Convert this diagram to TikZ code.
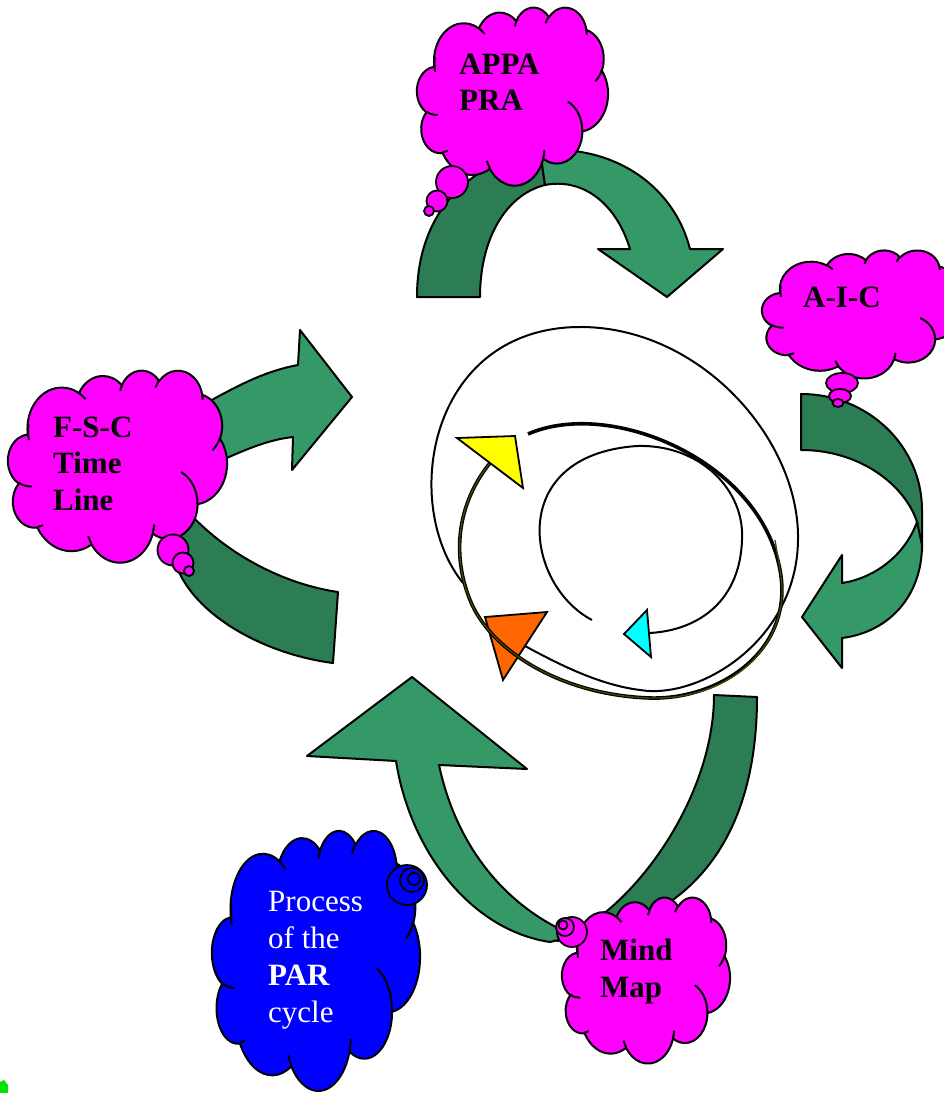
\documentclass[tikz,border=0pt]{standalone}
\usepackage{fontspec}
\setmainfont{Liberation Serif}
\definecolor{gdark}{RGB}{44,124,84}
\definecolor{glight}{RGB}{52,153,102}
\definecolor{pinkc}{RGB}{255,0,255}
\definecolor{bluec}{RGB}{0,0,255}
\definecolor{olivec}{RGB}{70,70,0}
\definecolor{orangec}{RGB}{255,102,0}
\definecolor{yellowc}{RGB}{255,255,0}
\definecolor{cyanc}{RGB}{0,255,255}
\definecolor{blobgreen}{RGB}{0,230,0}
% arc helper: name, rx, ry, visual start angle, visual sweep (degrees)
\newcommand\precomp[5]{%
  \pgfmathsetmacro\tmpS{atan2((#2)*sin(#4),(#3)*cos(#4))}%
  \pgfmathsetmacro\tmpE{atan2((#2)*sin((#4)+(#5)),(#3)*cos((#4)+(#5)))}%
  \pgfmathsetmacro\tmpD{mod(\tmpE-\tmpS+720,360)}%
  \expandafter\xdef\csname cls#1\endcsname{\tmpS}%
  \expandafter\xdef\csname cld#1\endcsname{\tmpD}}
\newcommand\oarc[3]{arc[x radius=#2,y radius=#3,start angle=\csname cls#1\endcsname,delta angle=\csname cld#1\endcsname]}
\newcommand\cloudoutline{(39.00,143.70) \oarc{a}{67.53}{91.90} \oarc{b}{53.33}{72.67}
  \oarc{c}{43.65}{59.45} \oarc{d}{48.57}{65.95} \oarc{e}{53.33}{72.73} \oarc{f}{67.75}{92.20}
  \oarc{g}{57.85}{78.67} \oarc{h}{67.52}{92.15} \oarc{i}{77.20}{105.43} \oarc{j}{43.60}{59.18}
  \oarc{k}{43.45}{59.45} -- cycle}
\newcommand\cloudinner{(46.93,261.77) \oarc{p}{43.45}{59.45}
  (69.28,348.99) \oarc{q}{43.60}{59.18}
  (164.78,390.90) \oarc{r}{67.52}{92.15}
  (288.27,347.51) \oarc{s}{67.52}{92.15}
  (341.29,229.54) \oarc{t}{57.85}{78.67}
  (417.98,153.54) \oarc{u}{53.33}{72.73}
  (383.24,54.26) \oarc{v}{48.57}{65.95}
  (290.78,39.52) \oarc{w}{48.57}{65.95}
  (221.41,47.20) \oarc{x}{43.65}{59.45}
  (140.00,51.92) \oarc{y}{67.53}{91.90}
  (41.27,157.89) \oarc{z}{67.53}{91.90}}
\begin{document}
\begin{tikzpicture}[x=1pt,y=-1pt,
  band/.style={draw=black,line width=2pt,line join=round},
  darkband/.style={band,fill=gdark},
  lightband/.style={band,fill=glight},
  cloudfill/.style={draw=black,line width=2pt,line join=round},
  bubble/.style={draw=black,line width=1.8pt,fill=pinkc},
  bbubble/.style={bubble,fill=bluec},
  lab/.style={font=\fontsize{31}{37}\selectfont\bfseries,anchor=base west,inner sep=0pt,text=black},
  wlab/.style={font=\fontsize{31}{37}\selectfont,anchor=base west,inner sep=0pt,text=white},
  thinline/.style={draw=black,line width=2pt},
  tip/.style={draw=black,line width=1.8pt,line join=miter},
  ]
\precomp{a}{67.53}{91.90}{-190.4875}{123.7805}
\precomp{b}{53.33}{72.67}{-144.1024}{89.9452}
\precomp{c}{43.65}{59.45}{-145.8079}{99.7230}
\precomp{d}{48.57}{65.95}{-130.9861}{117.2417}
\precomp{e}{53.33}{72.73}{-78.7089}{109.0269}
\precomp{f}{67.75}{92.20}{-46.2673}{130.2690}
\precomp{g}{57.85}{78.67}{0.6250}{114.0333}
\precomp{h}{67.52}{92.15}{22.4516}{115.1726}
\precomp{i}{77.20}{105.43}{66.2426}{75.7110}
\precomp{j}{43.60}{59.18}{-274.9421}{146.7356}
\precomp{k}{43.45}{59.45}{-246.8285}{152.5226}
\precomp{p}{43.45}{59.45}{86.7420}{26.4295}
\precomp{q}{43.60}{59.18}{73.6105}{11.4475}
\precomp{r}{67.52}{92.15}{137.6242}{14.0811}
\precomp{s}{67.52}{92.15}{6.4533}{15.9984}
\precomp{t}{57.85}{78.67}{-70.2924}{70.9174}
\precomp{u}{53.33}{72.73}{30.3180}{27.7515}
\precomp{v}{48.57}{65.95}{-13.7443}{14.8644}
\precomp{w}{48.57}{65.95}{-149.1815}{18.1876}
\precomp{x}{43.65}{59.45}{-163.4943}{17.6942}
\precomp{y}{67.53}{91.90}{-66.7070}{12.3194}
\precomp{z}{67.53}{91.90}{162.0363}{31.0381}
\useasboundingbox (0,0) rectangle (944,1093);
\clip (0,0) rectangle (944,1093);

% ---------- green curved arrows ----------
\path[darkband] (417,297) .. controls (417,220) and (460,165) .. (540,150) -- (545,185)
  .. controls (505,195) and (480,240) .. (480,297) -- cycle;
\path[lightband] (540,150) .. controls (620,145) and (675,190) .. (690,249) -- (723,249) -- (667,297)
  -- (598,249) -- (630,249) .. controls (615,200) and (580,178) .. (545,185) -- cycle;
\path[darkband] (801,394) .. controls (868,394) and (922,446) .. (922,510) -- (922,550) -- (917,522)
  .. controls (905,485) and (860,450) .. (801,450) -- cycle;
\path[lightband] (917,522) .. controls (905,555) and (875,578) .. (842,583) -- (842,555) -- (802,617)
  -- (842,668) -- (842,638) .. controls (890,632) and (922,595) .. (922,545) -- cycle;
\path[darkband] (714,695) -- (757,697) .. controls (757,840) and (690,915) .. (590,935) -- (557,941)
  .. controls (630,915) and (714,800) .. (714,695) -- cycle;
\path[lightband] (575,936) .. controls (500,905) and (455,840) .. (439,765) -- (527,769) -- (412,677)
  -- (307,756) -- (396,761) .. controls (410,850) and (470,930) .. (550,942) -- cycle;
\path[darkband] (338,592) .. controls (290,585) and (235,560) .. (193,517) -- (170,540) -- (178,570)
  .. controls (200,620) and (270,655) .. (333,663) -- cycle;
\path[lightband] (190,412) .. controls (230,390) and (260,372) .. (298,365) -- (300,330) -- (352,397)
  -- (292,470) -- (293,437) .. controls (265,440) and (240,452) .. (200,470) -- cycle;

% ---------- central spirals ----------
\coordinate (oA) at (485,617); \coordinate (oB) at (547,612); \coordinate (oC) at (503,680);
\coordinate (yA) at (515,436); \coordinate (yB) at (457,438); \coordinate (yC) at (523,488);
\coordinate (cA) at (624,634); \coordinate (cB) at (647,610); \coordinate (cC) at (651,657);
\draw[thinline] (463,583) .. controls (400,505) and (428,330) .. (577,327)
  .. controls (700,325) and (800,440) .. (798,540) .. controls (797,640) and (700,700) .. (640,690)
  .. controls (600,685) and (560,665) .. (525,646);
\path[tip,fill=orangec] (oA) -- (oB) -- (oC) -- cycle;
\draw[draw=black,line width=3.6pt] (528,434) .. controls (610,398) and (760,460) .. (780,570)
  .. controls (795,650) and (720,700) .. (650,698) .. controls (560,695) and (490,650) .. (470,600)
  .. controls (450,550) and (460,500) .. (490,463);
\draw[draw=olivec,line width=1.3pt] (775,540) .. controls (780,570) and (785,590) .. (780,610)
  .. controls (770,660) and (720,700) .. (650,698) .. controls (560,695) and (490,650) .. (470,600)
  .. controls (450,550) and (460,500) .. (490,463);
\path[tip,fill=yellowc] (yA) -- (yB) -- (yC) -- cycle;
\draw[thinline] (592,620) .. controls (525,585) and (505,455) .. (637,446)
  .. controls (700,444) and (745,490) .. (742,540) .. controls (740,600) and (700,630) .. (650,633);
\path[tip,fill=cyanc] (cA) -- (cB) -- (cC) -- cycle;

% ---------- clouds ----------
\begin{scope}[shift={(417,7)},xscale=191/432,yscale=178/432]
  \path[cloudfill,fill=pinkc] \cloudoutline;
  \path[cloudfill] \cloudinner;
\end{scope}
\draw[bubble] (452,182) circle [radius=16];
\draw[bubble] (437,201) circle [radius=10.5];
\draw[bubble] (429,211) circle [radius=5];
\node[lab] (appa1) at (459,74) {APPA};
\node[lab] (appa2) at (459,110) {PRA};

\begin{scope}[shift={(762,250)},xscale=200/432,yscale=128/432]
  \path[cloudfill,fill=pinkc] \cloudoutline;
  \path[cloudfill] \cloudinner;
\end{scope}
\draw[bubble] (842,383) ellipse [x radius=16,y radius=10];
\draw[bubble] (840,396) ellipse [x radius=11,y radius=7];
\draw[bubble] (838,403) ellipse [x radius=5.5,y radius=4];
\node[lab] (aic1) at (803,307) {A-I-C};

\begin{scope}[shift={(8,370)},xscale=219/432,yscale=192/432]
  \path[cloudfill,fill=pinkc] \cloudoutline;
  \path[cloudfill] \cloudinner;
\end{scope}
\draw[bubble] (173,550) circle [radius=15.5];
\draw[bubble] (183,563) circle [radius=10.5];
\draw[bubble] (189,571) circle [radius=5];
\node[lab] (fsc1) at (53,437) {F-S-C};
\node[lab] (fsc2) at (53,473) {Time};
\node[lab] (fsc3) at (53,510) {Line};

\begin{scope}[shift={(562,897)},xscale=168/432,yscale=166/432]
  \path[cloudfill,fill=pinkc] \cloudoutline;
  \path[cloudfill] \cloudinner;
\end{scope}
\draw[bubble] (572,932) circle [radius=15];
\draw[bubble] (565,927) circle [radius=9];
\draw[bubble] (563,925) circle [radius=4.5];
\node[lab] (mind1) at (600,960) {Mind};
\node[lab] (mind2) at (600,997) {Map};

\begin{scope}[shift={(212,830)},xscale=208/432,yscale=260/432]
  \path[cloudfill,fill=bluec] \cloudoutline;
  \path[cloudfill] \cloudinner;
\end{scope}
\draw[bbubble] (407,885) circle [radius=20];
\draw[bbubble] (412,880) circle [radius=12];
\draw[bbubble] (414,879) circle [radius=6];
\node[wlab] (par1) at (268,911) {Process};
\node[wlab] (par2) at (268,948) {of the};
\node[wlab] (par3) at (268,985) {\bfseries PAR};
\node[wlab] (par4) at (268,1022) {cycle};

\fill[blobgreen] (0,1082) -- (4,1080) -- (8,1085) -- (8,1093) -- (0,1093) -- cycle;
\end{tikzpicture}
\end{document}
